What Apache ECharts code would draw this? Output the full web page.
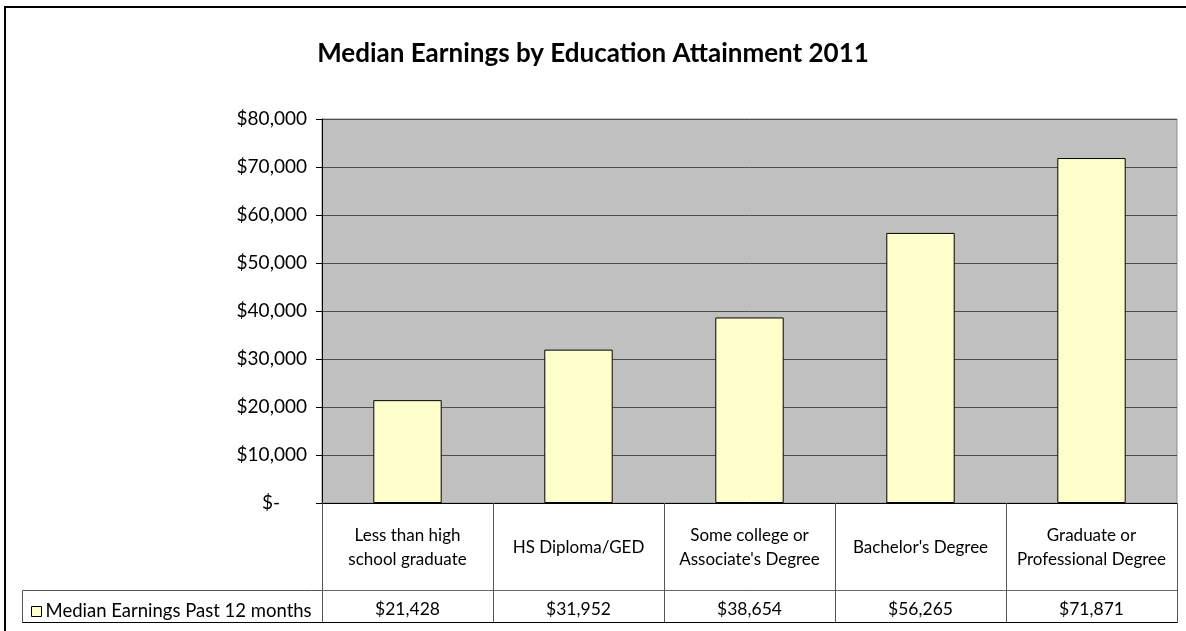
<!DOCTYPE html>
<html>
<head>
<meta charset="utf-8">
<script src="https://cdn.jsdelivr.net/npm/echarts@6/dist/echarts.min.js"></script>
<style>
  html, body { margin: 0; padding: 0; background: #fff; }
  #chart { width: 1186px; height: 631px; }
</style>
</head>
<body>
<div id="chart"></div>
<script>
// Median earnings by educational attainment, 2011
const categories = [
  'Less than high\nschool graduate',
  'HS Diploma/GED',
  'Some college or\nAssociate\'s Degree',
  'Bachelor\'s Degree',
  'Graduate or\nProfessional Degree'
];
const earnings = [21428, 31952, 38654, 56265, 71871];
const seriesName = 'Median Earnings Past 12 months';
const yTicks = { min: 0, max: 80000, interval: 10000 };

// Plot area and data table geometry
const G = { left: 322, top: 119, right: 1177, bottom: 503 };
const catRowH = 87;   // category label row
const valRowH = 32;   // value row
const tableLeft = 22;
const FONT = 'Lato, "Open Sans", sans-serif';

function money(v) {
  return '$' + v.toLocaleString('en-US');
}

const chart = echarts.init(document.getElementById('chart'), null, { renderer: 'canvas' });

const catTop = G.bottom;
const valTop = G.bottom + catRowH;
const valBottom = valTop + valRowH;

chart.setOption({
  animation: false,
  backgroundColor: '#ffffff',
  title: {
    text: 'Median Earnings by Education Attainment 2011',
    left: 'center',
    top: 36,
    textStyle: { fontFamily: FONT, fontWeight: 'bold', fontSize: 26, color: '#000' }
  },
  legend: {
    data: [seriesName],
    left: 26,
    top: valTop + 7,
    itemWidth: 10,
    itemHeight: 10,
    itemGap: 0,
    icon: 'rect',
    textStyle: { fontFamily: FONT, fontSize: 18.5, color: '#000', padding: [0, 0, 0, -1] },
    itemStyle: { borderColor: '#000', borderWidth: 1 }
  },
  grid: {
    left: G.left,
    top: G.top,
    width: G.right - G.left,
    height: G.bottom - G.top,
    show: true,
    backgroundColor: '#c0c0c0',
    borderColor: '#8c8c8c',
    borderWidth: 1
  },
  xAxis: [
    {
      type: 'category',
      data: categories,
      position: 'bottom',
      axisLine: { show: true, lineStyle: { color: '#000', width: 1 } },
      axisTick: { show: true, length: catRowH, lineStyle: { color: '#555', width: 1 } },
      axisLabel: {
        fontFamily: FONT, fontSize: 17, color: '#000', lineHeight: 24,
        margin: 45, interval: 0, verticalAlign: 'middle'
      },
      splitLine: { show: false }
    },
    {
      type: 'category',
      data: categories,
      position: 'bottom',
      offset: catRowH,
      axisLine: { show: true, lineStyle: { color: '#666', width: 1 } },
      axisTick: { show: true, length: valRowH, lineStyle: { color: '#555', width: 1 } },
      axisLabel: {
        fontFamily: FONT, fontSize: 17.5, color: '#000', margin: 19, interval: 0,
        verticalAlign: 'middle',
        formatter: (v, i) => money(earnings[i])
      },
      splitLine: { show: false }
    }
  ],
  yAxis: {
    type: 'value',
    min: yTicks.min,
    max: yTicks.max,
    interval: yTicks.interval,
    axisLine: { show: true, lineStyle: { color: '#000', width: 1 } },
    axisTick: { show: true, length: 6, lineStyle: { color: '#000' } },
    axisLabel: {
      fontFamily: FONT, fontSize: 19, color: '#000', margin: 15,
      formatter: v => v === 0 ? '{z|$-}' : money(v),
      rich: { z: { fontFamily: FONT, fontSize: 19, color: '#000', padding: [0, 27, 0, 0] } }
    },
    splitLine: { show: true, lineStyle: { color: '#4d4d4d', width: 1 } }
  },
  series: [
    {
      name: seriesName,
      type: 'bar',
      xAxisIndex: 0,
      data: earnings,
      barWidth: '40%',
      itemStyle: { color: '#ffffcc', borderColor: '#000', borderWidth: 1 }
    }
  ],
  graphic: [
    // chart outer frame
    {
      type: 'rect', silent: true,
      shape: { x: 5, y: 7, width: 1300, height: 800 },
      style: { fill: null, stroke: '#000', lineWidth: 2 }
    },
    // value row outline including the legend cell
    {
      type: 'rect', silent: true,
      shape: { x: tableLeft + 0.5, y: valTop + 0.5, width: G.right - tableLeft, height: valRowH },
      style: { fill: null, stroke: '#555', lineWidth: 1 }
    },
    {
      type: 'line', silent: true,
      shape: { x1: tableLeft + 0.5, y1: valBottom + 0.5, x2: G.right + 0.5, y2: valBottom + 0.5 },
      style: { stroke: '#000', lineWidth: 1 }
    },
    // left edge of the category cells
    {
      type: 'line', silent: true,
      shape: { x1: G.left + 0.5, y1: catTop, x2: G.left + 0.5, y2: valBottom },
      style: { stroke: '#555', lineWidth: 1 }
    },
    // right edge of the table
    {
      type: 'line', silent: true,
      shape: { x1: G.right + 0.5, y1: catTop, x2: G.right + 0.5, y2: valBottom + 1 },
      style: { stroke: '#555', lineWidth: 1 }
    }
  ]
});
</script>
</body>
</html>
